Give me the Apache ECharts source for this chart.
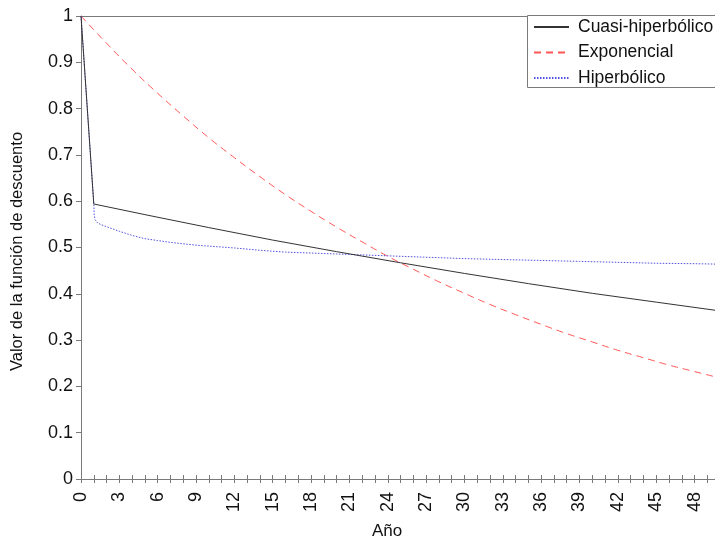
<!DOCTYPE html>
<html>
<head>
<meta charset="utf-8">
<script src="https://cdn.jsdelivr.net/npm/echarts@6/dist/echarts.min.js"></script>
<style>html,body{margin:0;padding:0;background:#fff}#c{width:715px;height:540px}</style>
</head>
<body>
<div id="c"></div>
<script>
// Data
var seriesNames = ['Cuasi-hiperbólico', 'Exponencial', 'Hiperbólico'];
var cuasiYears = [0, 1, 5, 10, 15, 20, 25, 30, 35, 40, 45, 50];
var cuasiValues = [1, 0.594, 0.571, 0.543, 0.516, 0.491, 0.467, 0.444, 0.422, 0.401, 0.382, 0.363];
var expYears = [0, 2, 4, 6, 8, 10, 12, 14, 16, 18, 20, 22, 24, 26, 28, 30, 32, 34, 36, 38, 40, 42, 44, 46, 48, 50];
var expValues = [1, 0.941, 0.885, 0.833, 0.784, 0.737, 0.694, 0.653, 0.614, 0.578, 0.544, 0.512, 0.481, 0.453, 0.426, 0.401, 0.377, 0.355, 0.334, 0.314, 0.296, 0.278, 0.262, 0.246, 0.232, 0.218];
var hipYears = [0, 1, 1.03, 1.1, 1.3, 1.6, 2, 3, 4, 5, 6, 7, 8, 9, 10, 12, 14, 16, 18, 20, 22, 24, 26, 28, 30, 33, 36, 39, 42, 45, 48, 50];
var hipValues = [1, 0.594, 0.572, 0.560, 0.553, 0.549, 0.545, 0.535, 0.526, 0.519, 0.515, 0.511, 0.508, 0.505, 0.503, 0.499, 0.494, 0.490, 0.488, 0.486, 0.484, 0.482, 0.480, 0.478, 0.476, 0.474, 0.472, 0.470, 0.468, 0.466, 0.465, 0.464];
var yTickLabels = ['0', '0.1', '0.2', '0.3', '0.4', '0.5', '0.6', '0.7', '0.8', '0.9', '1'];

function pairs(xs, ys) { return xs.map(function (x, i) { return [x, ys[i]]; }); }

var FONT = 'Liberation Sans, Arial, sans-serif';
var AX = '#7a7a7a';
var chart = echarts.init(document.getElementById('c'), null, {renderer: 'canvas'});
chart.setOption({
  animation: false,
  backgroundColor: '#fff',
  grid: {left: 81, right: 0, top: 16, bottom: 61, containLabel: false, outerBoundsMode: 'none'},
  graphic: [{type: 'rect', z: 1, shape: {x: 527.5, y: 15.5, width: 240, height: 72},
    style: {fill: '#fff', stroke: AX, lineWidth: 1}}],
  legend: {
    orient: 'vertical', left: 527, top: 15, z: 10,
    padding: [3, 10, 2, 6], itemGap: 7.5, itemWidth: 35, itemHeight: 14,
    itemStyle: {opacity: 0},
    textStyle: {fontSize: 17.5, color: '#111', fontFamily: FONT, padding: [0, 0, 0, 4]},
    data: seriesNames
  },
  xAxis: [
    {type: 'value', min: 0, max: 49.6, interval: 1, position: 'bottom',
      name: 'Año', nameLocation: 'middle', nameGap: 44,
      nameTextStyle: {fontSize: 17, color: '#111', fontFamily: FONT, padding: [0, 22, 0, 0]},
      axisLine: {lineStyle: {color: AX}}, splitLine: {show: false},
      axisTick: {length: 4, lineStyle: {color: AX}},
      axisLabel: {rotate: 90, margin: 13, fontSize: 18, color: '#111', fontFamily: FONT, showMaxLabel: false,
        formatter: function (v) { return (Math.abs(v - Math.round(v)) < 1e-6 && Math.round(v) % 3 === 0) ? String(Math.round(v)) : ''; }}},
    {type: 'value', min: 0, max: 49.6, interval: 1, position: 'bottom',
      axisLine: {show: false}, splitLine: {show: false}, axisLabel: {show: false},
      axisTick: {inside: true, length: 4, lineStyle: {color: AX}}},
    {type: 'value', min: 0, max: 49.6, position: 'top',
      axisLine: {lineStyle: {color: AX}}, splitLine: {show: false}, axisLabel: {show: false}, axisTick: {show: false}}
  ],
  yAxis: [
    {type: 'value', min: 0, max: 1, interval: 0.1,
      name: 'Valor de la función de descuento', nameLocation: 'middle', nameGap: 55,
      nameTextStyle: {fontSize: 16.5, color: '#111', fontFamily: FONT, padding: [0, 8, 0, 0]},
      axisLine: {show: true, lineStyle: {color: AX}}, splitLine: {show: false},
      axisTick: {show: true, length: 3, lineStyle: {color: AX}},
      axisLabel: {margin: 8, fontSize: 18, color: '#111', fontFamily: FONT,
        formatter: function (v) { return yTickLabels[Math.round(v * 10)]; }}},
    {type: 'value', min: 0, max: 1, interval: 0.1,
      axisLine: {show: false}, splitLine: {show: false}, axisLabel: {show: false},
      axisTick: {show: true, inside: true, length: 5, lineStyle: {color: AX}}}
  ],
  series: [
    {name: seriesNames[0], type: 'line', z: 5, symbol: 'none', xAxisIndex: 0, yAxisIndex: 0,
      lineStyle: {color: '#333', width: 1, type: 'solid'}, itemStyle: {color: '#333'},
      data: pairs(cuasiYears, cuasiValues)},
    {name: seriesNames[1], type: 'line', z: 3, symbol: 'none', smooth: true, xAxisIndex: 0, yAxisIndex: 0,
      lineStyle: {color: '#ff5555', width: 1, type: [7, 5]}, itemStyle: {color: '#ff5555'},
      data: pairs(expYears, expValues)},
    {name: seriesNames[2], type: 'line', z: 3, symbol: 'none', xAxisIndex: 0, yAxisIndex: 0,
      lineStyle: {color: '#5050e0', width: 1, type: [1.5, 1.5]}, itemStyle: {color: '#5050e0'},
      data: pairs(hipYears, hipValues)}
  ]
});
</script>
</body>
</html>
